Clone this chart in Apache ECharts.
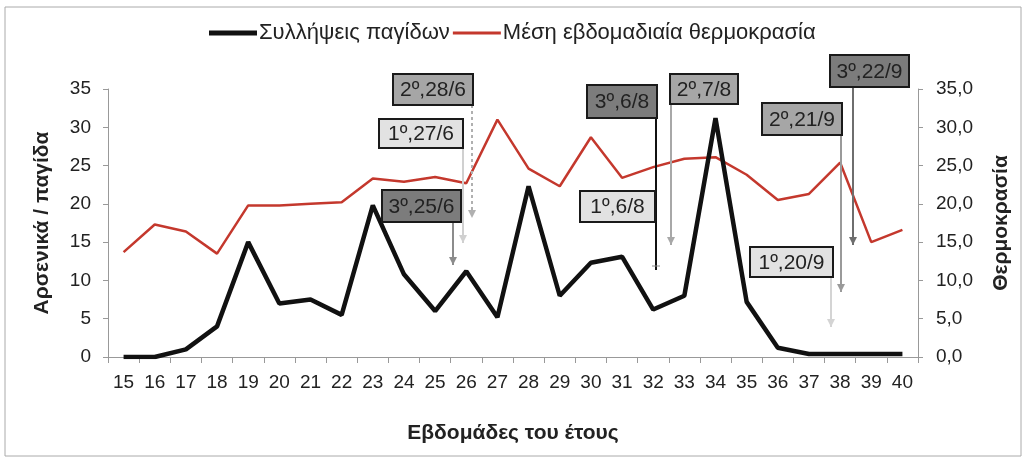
<!DOCTYPE html>
<html>
<head>
<meta charset="utf-8">
<script src="https://cdn.jsdelivr.net/npm/echarts@6/dist/echarts.min.js"></script>
<style>
  html, body { margin: 0; padding: 0; background: #fff; }
  #chart { width: 1028px; height: 462px; }
</style>
</head>
<body>
<div id="chart"></div>
<script>
  // εβδομάδες του έτους
  var weeks = ['15','16','17','18','19','20','21','22','23','24','25','26','27','28','29','30','31','32','33','34','35','36','37','38','39','40']
  // συλλήψεις (αρσενικά / παγίδα)
  var captures = [0, 0, 1, 4, 15, 7, 7.5, 5.5, 19.8, 10.8, 6, 11.2, 5.2, 22.3, 8, 12.3, 13.1, 6.2, 8, 31.2, 7.2, 1.2, 0.4, 0.4, 0.4, 0.4]
  // μέση εβδομαδιαία θερμοκρασία
  var temperature = [13.7, 17.3, 16.4, 13.5, 19.8, 19.8, 20, 20.2, 23.3, 22.9, 23.5, 22.7, 31, 24.6, 22.3, 28.7, 23.4, 24.8, 25.9, 26.1, 23.8, 20.5, 21.3, 25.4, 15, 16.6]
  // ετικέτες ψεκασμών
  var sprayLabels = ['2º,28/6', '1º,27/6', '3º,25/6', '3º,6/8', '1º,6/8', '2º,7/8', '2º,21/9', '3º,22/9', '1º,20/9']

  // θέσεις κουτιών [x, y, w, h, τύπος] και βελών [x, y1, y2, χρώμα, διακεκομμένο]
  var boxPos = [
    [393, 74, 80, 31, 2], [379, 119, 84, 29, 1], [382, 190, 79, 32, 3],
    [587, 85, 70, 33, 3], [580, 191, 75, 31, 1], [670, 74, 68, 30, 2],
    [762, 103, 80, 32, 2], [830, 55, 79, 32, 3], [750, 247, 83, 30, 1]
  ]
  var arrowPos = [
    [472, 105, 218, '#b0b0b0', true], [463, 148, 243, '#d0d0d0', false],
    [453, 222, 265, '#8c8c8c', false], [656, 118, 270, '#111', false],
    [671, 104, 245, '#a8a8a8', false], [841, 135, 292, '#9a9a9a', false],
    [853, 87, 245, '#6e6e6e', false], [831, 277, 327, '#d4d4d4', false]
  ]
  var boxFill = { 1: '#e2e2e2', 2: '#a6a6a6', 3: '#7c7c7c' }

  var font = 'Liberation Sans, Arial, sans-serif'
  var graphic = [{
    type: 'rect', shape: { x: 5, y: 7, width: 1016, height: 449 },
    style: { fill: 'none', stroke: '#aaa', lineWidth: 1 }, z: 0
  }]
  arrowPos.forEach(function (a) {
    graphic.push({
      type: 'line', shape: { x1: a[0], y1: a[1], x2: a[0], y2: a[2] },
      style: { stroke: a[3], lineWidth: 2, lineDash: a[4] ? [3, 3] : null }, z: 20
    })
    if (a[3] === '#111') {
      graphic.push({
        type: 'line', shape: { x1: a[0] - 4, y1: a[2] - 4, x2: a[0] + 4, y2: a[2] - 4 },
        style: { stroke: '#888', lineWidth: 1 }, z: 20
      })
    } else {
      graphic.push({
        type: 'polygon', shape: { points: [[a[0] - 4, a[2] - 8], [a[0] + 4, a[2] - 8], [a[0], a[2]]] },
        style: { fill: a[3] }, z: 20
      })
    }
  })
  boxPos.forEach(function (b, i) {
    graphic.push({
      type: 'rect', shape: { x: b[0], y: b[1], width: b[2], height: b[3] },
      style: { fill: boxFill[b[4]], stroke: '#1a1a1a', lineWidth: 2 }, z: 30
    })
    graphic.push({
      type: 'text', x: b[0] + b[2] / 2, y: b[1] + b[3] / 2 + 1,
      style: { text: sprayLabels[i], fill: '#222', font: '21px ' + font, align: 'center', verticalAlign: 'middle' },
      z: 31
    })
  })

  var myChart = echarts.init(document.getElementById('chart'))
  myChart.setOption({
    animation: false,
    backgroundColor: '#fff',
    textStyle: { fontFamily: font },
    legend: {
      left: 204, top: 17,
      itemWidth: 48, itemHeight: 14, itemGap: 3,
      textStyle: { fontSize: 22, color: '#222', fontFamily: font, padding: [0, 0, 0, -3] },
      data: [
        { name: 'Συλλήψεις παγίδων', icon: 'path://M0,0L0,0ZM0,4.5L48,4.5L48,9.5L0,9.5ZM0,14L0,14Z' },
        { name: 'Μέση εβδομαδιαία θερμοκρασία', icon: 'path://M0,0L0,0ZM0,5.5L48,5.5L48,8.5L0,8.5ZM0,14L0,14Z' }
      ]
    },
    grid: { left: 108, right: 110, top: 89, bottom: 105 },
    xAxis: {
      type: 'category',
      data: weeks,
      boundaryGap: true,
      name: 'Εβδομάδες του έτους',
      nameLocation: 'middle',
      nameGap: 66,
      nameTextStyle: { fontSize: 21, fontWeight: 'bold', color: '#222' },
      axisLine: { lineStyle: { color: '#999' } },
      axisTick: { show: true, length: 6, lineStyle: { color: '#999' } },
      axisLabel: { fontSize: 19, color: '#222', margin: 16 }
    },
    yAxis: [{
      type: 'value', min: 0, max: 35, interval: 5,
      name: 'Αρσενικά / παγίδα',
      nameLocation: 'middle', nameRotate: 90, nameGap: 55,
      nameTextStyle: { fontSize: 21, fontWeight: 'bold', color: '#222' },
      axisLine: { show: true, lineStyle: { color: '#999' } },
      axisTick: { show: true, length: 5, lineStyle: { color: '#999' } },
      axisLabel: { fontSize: 19, color: '#222', margin: 17 },
      splitLine: { show: false }
    }, {
      type: 'value', min: 0, max: 35, interval: 5,
      name: 'Θερμοκρασία',
      nameLocation: 'middle', nameRotate: 90, nameGap: 73,
      nameTextStyle: { fontSize: 21, fontWeight: 'bold', color: '#222' },
      axisLine: { show: true, lineStyle: { color: '#999' } },
      axisTick: { show: true, length: 5, lineStyle: { color: '#999' } },
      axisLabel: {
        fontSize: 19, color: '#222', margin: 18,
        formatter: function (v) { return v.toFixed(1).replace('.', ',') }
      },
      splitLine: { show: false }
    }],
    series: [{
      name: 'Συλλήψεις παγίδων',
      type: 'line',
      yAxisIndex: 0,
      data: captures,
      symbol: 'none',
      lineStyle: { color: '#111', width: 4.5 },
      itemStyle: { color: '#111' },
      z: 3
    }, {
      name: 'Μέση εβδομαδιαία θερμοκρασία',
      type: 'line',
      yAxisIndex: 1,
      data: temperature,
      symbol: 'none',
      lineStyle: { color: '#c4382d', width: 2.5 },
      itemStyle: { color: '#c4382d' },
      z: 2
    }],
    graphic: graphic
  })
</script>
</body>
</html>
